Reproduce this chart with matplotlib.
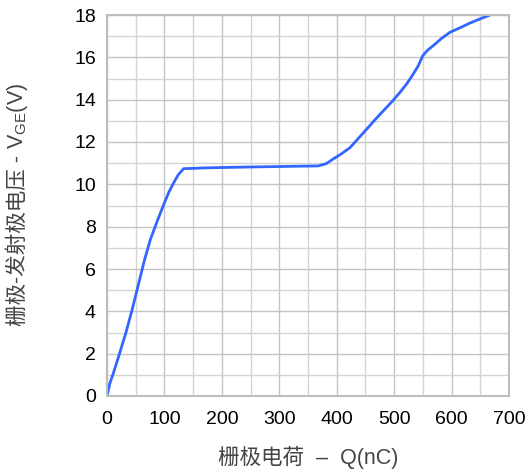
import matplotlib
matplotlib.use("Agg")
import matplotlib.pyplot as plt
from matplotlib.ticker import MultipleLocator

plt.rcParams['font.family'] = ['Liberation Sans', 'Noto Sans CJK SC', 'DejaVu Sans']
plt.rcParams['mathtext.fontset'] = 'custom'
plt.rcParams['mathtext.rm'] = 'Liberation Sans'

# gate charge curve
q_nc = [0, 5, 11, 22, 33, 43, 55, 65, 75.5, 88, 100, 108, 116, 124, 133.5,
        174, 250, 320, 368, 382, 394, 408, 423, 437, 452, 466, 481, 496, 510,
        522, 533, 542, 549.7, 558, 568, 582, 597, 615, 632, 650, 667]
v_ge = [0, 0.6, 1.07, 2.02, 3.0, 4.0, 5.3, 6.4, 7.39, 8.3, 9.13, 9.65, 10.07,
        10.45, 10.74, 10.78, 10.82, 10.85, 10.87, 10.98, 11.2, 11.44, 11.73,
        12.15, 12.6, 13.03, 13.47, 13.9, 14.34, 14.75, 15.2, 15.6, 16.07,
        16.33, 16.55, 16.88, 17.18, 17.4, 17.62, 17.82, 18.0]

fig = plt.figure(figsize=(5.27, 4.76), dpi=100)
ax = fig.add_axes([107/527, 80/476, 402/527, 381/476])

ax.plot(q_nc, v_ge, color='#3366ff', lw=2, solid_capstyle='round')

ax.set_xlim(0, 700)
ax.set_ylim(0, 18)
ax.xaxis.set_major_locator(MultipleLocator(100))
ax.xaxis.set_minor_locator(MultipleLocator(50))
ax.yaxis.set_major_locator(MultipleLocator(2))
ax.yaxis.set_minor_locator(MultipleLocator(1))
ax.grid(which='major', color='#c4c4c4', lw=1)
ax.grid(which='minor', color='#d4d4d4', lw=1)
ax.set_axisbelow(True)
ax.tick_params(which='both', length=0, labelsize=14, colors='black')
ax.tick_params(axis='x', pad=11)
ax.tick_params(axis='y', pad=8)
for s in ax.spines.values():
    s.set_color('#bdbdbd')
    s.set_linewidth(1.5)

ax.set_xlabel('栅极电荷  –  Q(nC)', fontsize=15.5, color='#444444', labelpad=13)

# y label: CJK part as plain text, subscript part as mathtext
fig.canvas.draw()
rend = fig.canvas.get_renderer()
lab_x = 18 / 527
t1 = fig.text(lab_x, 0, '栅极-发射极电压 - ', rotation=90, ha='center',
              va='bottom', fontsize=15.5, color='#444444')
t2 = fig.text(lab_x, 0, 'V$_{\\mathrm{GE}}$(V)', rotation=90, ha='center',
              va='bottom', fontsize=15.5, color='#444444')
h1 = t1.get_window_extent(rend).height / fig.bbox.height
h2 = t2.get_window_extent(rend).height / fig.bbox.height
y0 = (476 - 204) / 476 - (h1 + h2) / 2
t1.set_y(y0)
t2.set_y(y0 + h1)

fig.savefig('out.png', dpi=100)
